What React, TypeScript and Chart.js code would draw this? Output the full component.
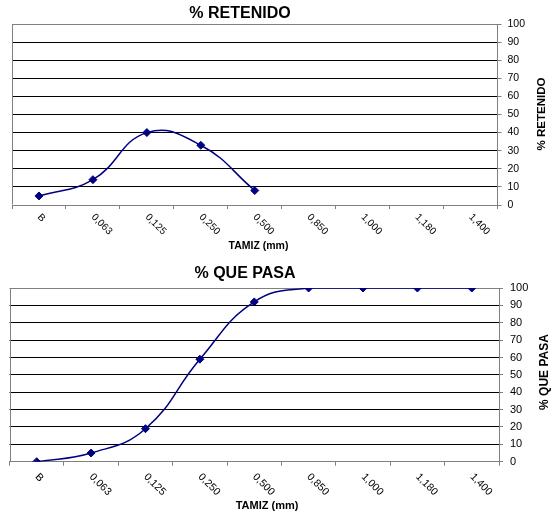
import React, { useEffect, useRef } from "react";
import { Chart, registerables } from "chart.js";

Chart.register(...registerables);

// ---- data ----
const categories = ["B", "0,063", "0,125", "0,250", "0,500", "0,850", "1,000", "1,180", "1,400"];
const retenido = [5, 14, 40, 33, 8];
const pasa = [0, 5, 19, 59, 92, 100, 100, 100, 100];
const yMin = 0;
const yMax = 100;
const yStep = 10;

const FONT = "'Liberation Sans', Arial, sans-serif";
const GRAY = "#808080";
const NAVY = "#000080";

type Cfg = {
  title: string;
  yTitle: string;
  xTitle: string;
  data: number[];
  width: number;
  height: number;
  padLeft: number;
  padTop: number;
  xAxisH: number;
  yAxisW: number;
  titleX: number;
  titleY: number;
  titleSize: number;
  xTitleX: number;
  xTitleY: number;
  xTitleSize: number;
  yTitleX: number;
  yTitleY: number;
  yTitleSize: number;
  tickSize: number;
  tickPad: number;
  labelSize: number;
  labelDy: number;
};

const topCfg: Cfg = {
  title: "% RETENIDO",
  yTitle: "% RETENIDO",
  xTitle: "TAMIZ (mm)",
  data: retenido,
  width: 552,
  height: 256,
  padLeft: 12,
  padTop: 24,
  xAxisH: 51,
  yAxisW: 54.5,
  titleX: 240,
  titleY: 14,
  titleSize: 16,
  xTitleX: 258.5,
  xTitleY: 246,
  xTitleSize: 10.5,
  yTitleX: 541.5,
  yTitleY: 114,
  yTitleSize: 11.5,
  tickSize: 10.5,
  tickPad: 6,
  labelSize: 10,
  labelDy: 10.5,
};

const bottomCfg: Cfg = {
  title: "% QUE PASA",
  yTitle: "% QUE PASA",
  xTitle: "TAMIZ (mm)",
  data: pasa,
  width: 552,
  height: 257,
  padLeft: 9.5,
  padTop: 32,
  xAxisH: 51.3,
  yAxisW: 53,
  titleX: 245,
  titleY: 17.5,
  titleSize: 16,
  xTitleX: 267,
  xTitleY: 249.5,
  xTitleSize: 11,
  yTitleX: 545,
  yTitleY: 116,
  yTitleSize: 12,
  tickSize: 11,
  tickPad: 7,
  labelSize: 10.5,
  labelDy: 13.5,
};

function makeDecor(c: Cfg) {
  return {
    id: "decor",
    beforeDatasetsDraw(chart: any) {
      const { ctx, chartArea: a } = chart;
      ctx.save();
      ctx.strokeStyle = GRAY;
      ctx.lineWidth = 1;
      const l = Math.round(a.left) + 0.5;
      const t = Math.round(a.top) + 0.5;
      const r = Math.round(a.right) - 0.5;
      const b = Math.round(a.bottom) - 0.5;
      ctx.beginPath();
      ctx.moveTo(l, b);
      ctx.lineTo(l, t);
      ctx.lineTo(r, t);
      ctx.stroke();
      ctx.restore();
    },
    afterDraw(chart: any) {
      const { ctx, chartArea: a } = chart;
      const xs = chart.scales.x;
      ctx.save();
      ctx.fillStyle = "#000";
      ctx.textBaseline = "middle";
      ctx.textAlign = "center";
      // chart title
      ctx.font = `bold ${c.titleSize}px ${FONT}`;
      ctx.fillText(c.title, c.titleX, c.titleY);
      // x axis title
      ctx.font = `bold ${c.xTitleSize}px ${FONT}`;
      ctx.fillText(c.xTitle, c.xTitleX, c.xTitleY);
      // y axis title (reads bottom to top)
      ctx.save();
      ctx.translate(c.yTitleX, c.yTitleY);
      ctx.rotate(-Math.PI / 2);
      ctx.font = `bold ${c.yTitleSize}px ${FONT}`;
      ctx.fillText(c.yTitle, 0, 0);
      ctx.restore();
      // rotated category labels
      ctx.font = `${c.labelSize}px ${FONT}`;
      ctx.textAlign = "left";
      xs.ticks.forEach((tk: any, i: number) => {
        const x = xs.getPixelForTick(i);
        ctx.save();
        ctx.translate(x, a.bottom + c.labelDy);
        ctx.rotate(Math.PI / 4);
        ctx.fillText(String(xs.getLabelForValue(tk.value)), 0, 0);
        ctx.restore();
      });
      ctx.restore();
    },
  };
}

function LineChart({ cfg }: { cfg: Cfg }) {
  const ref = useRef<HTMLCanvasElement | null>(null);
  useEffect(() => {
    if (!ref.current) return;
    const chart = new Chart(ref.current, {
      type: "line",
      data: {
        labels: categories,
        datasets: [
          {
            data: cfg.data,
            borderColor: NAVY,
            borderWidth: 1.5,
            backgroundColor: NAVY,
            tension: 0.45,
            fill: false,
            pointStyle: "rectRot",
            pointRadius: 4,
            pointBorderWidth: 1,
            pointBackgroundColor: NAVY,
            pointBorderColor: NAVY,
          },
        ],
      },
      options: {
        animation: false,
        responsive: false,
        devicePixelRatio: 1,
        events: [],
        layout: { padding: { left: cfg.padLeft, top: cfg.padTop, right: 0, bottom: 0 } },
        plugins: {
          legend: { display: false },
          title: { display: false },
          tooltip: { enabled: false },
        },
        scales: {
          x: {
            type: "category",
            offset: true,
            grid: {
              offset: true,
              drawOnChartArea: false,
              drawTicks: true,
              tickLength: 4,
              tickColor: GRAY,
              color: GRAY,
            },
            border: { display: true, color: GRAY, width: 1 },
            ticks: { display: false },
            afterFit: (s: any) => {
              s.height = cfg.xAxisH;
            },
          },
          y: {
            position: "right",
            min: yMin,
            max: yMax,
            grid: {
              color: (ctx: any) =>
                ctx.tick && (ctx.tick.value === yMin || ctx.tick.value === yMax) ? GRAY : "#000000",
              lineWidth: 1,
              drawTicks: true,
              tickLength: 4,
              tickColor: GRAY,
            },
            border: { display: true, color: GRAY, width: 1 },
            ticks: {
              stepSize: yStep,
              color: "#000",
              padding: cfg.tickPad,
              font: { family: FONT, size: cfg.tickSize },
            },
            afterFit: (s: any) => {
              s.width = cfg.yAxisW;
            },
          },
        },
      } as any,
      plugins: [makeDecor(cfg)],
    });
    return () => chart.destroy();
  }, [cfg]);
  return (
    <canvas
      ref={ref}
      width={cfg.width}
      height={cfg.height}
      style={{ display: "block", width: cfg.width, height: cfg.height }}
    />
  );
}

export default function App() {
  return (
    <div style={{ position: "absolute", left: 0, top: 0, width: 552, height: 513, background: "#fff" }}>
      <LineChart cfg={topCfg} />
      <LineChart cfg={bottomCfg} />
    </div>
  );
}
